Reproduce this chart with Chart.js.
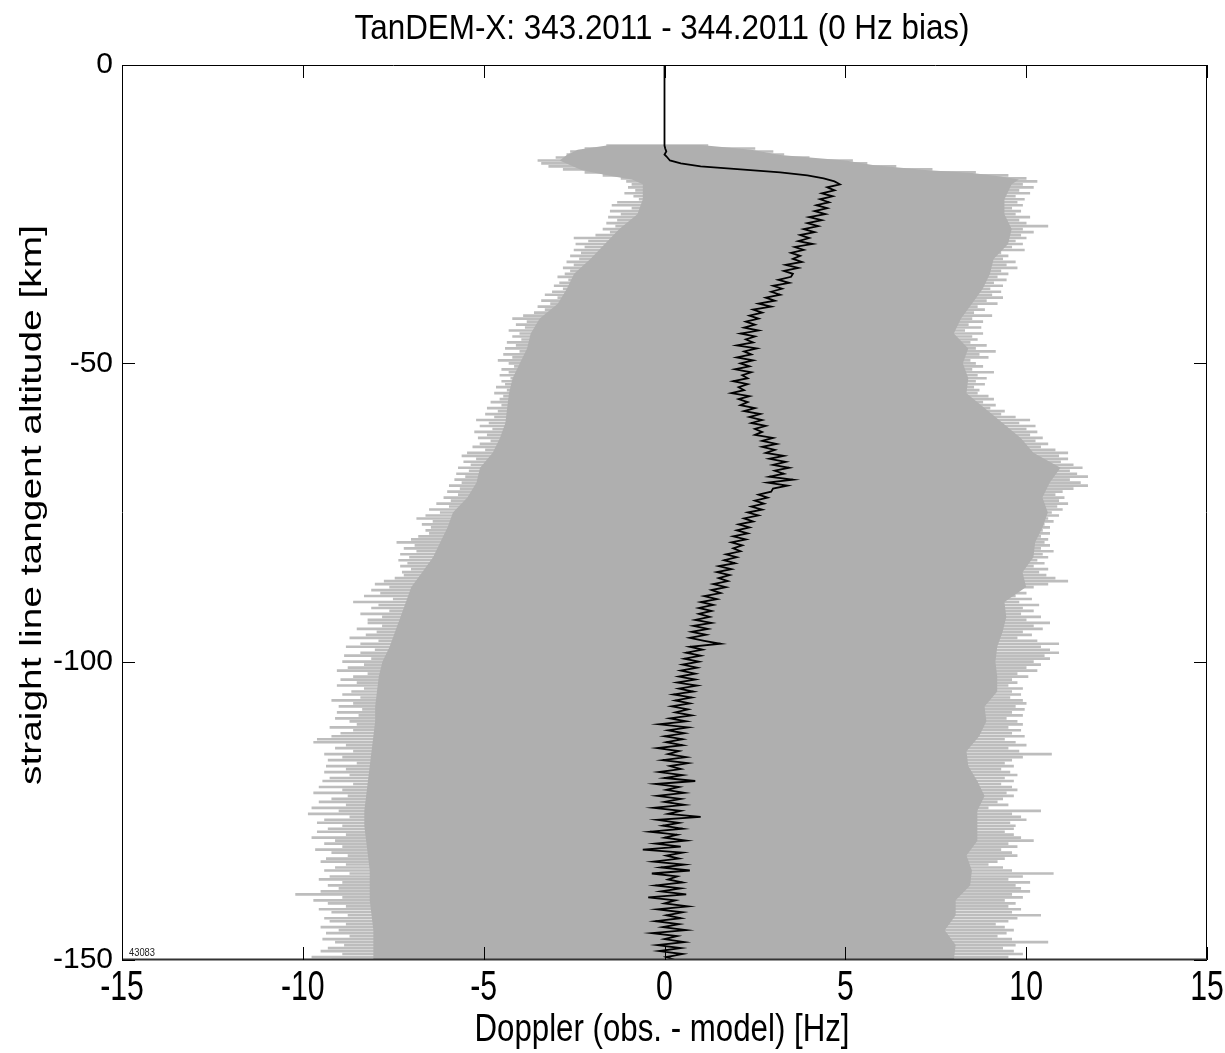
<!DOCTYPE html>
<html>
<head>
<meta charset="utf-8">
<title>TanDEM-X Doppler residuals</title>
<script src="https://cdn.jsdelivr.net/npm/chart.js@4.4.1/dist/chart.umd.min.js"></script>
<style>
  html, body { margin: 0; padding: 0; background: #fff; }
  #wrap { width: 1225px; height: 1053px; }
</style>
</head>
<body>
<div id="wrap"><canvas id="dopplerChart" width="1225" height="1053"></canvas></div>
<script>
// Profiles are sampled every 0.5 km starting at -13.5 km
const ALT_TOP = -13.5;
const ALT_STEP = 0.5;

const xTicks = [-15, -10, -5, 0, 5, 10, 15];
const yTicks = [0, -50, -100, -150];

// mean residual above the first sample (straight drop at 0 Hz)
const leadAlt = [0, -13];
const leadDoppler = [0, 0];

// mean Doppler residual per sample [Hz]
const meanDoppler = [
  0.0, 0.02, 0.05, 0.0, 0.08, 0.15, 0.45, 1.0, 2.1, 3.2,
  3.95, 4.4, 4.7, 4.85, 4.5, 4.7, 4.35, 4.65, 4.3, 4.55,
  4.2, 4.5, 4.15, 4.45, 4.0, 4.35, 3.95, 4.25, 3.85, 4.15,
  3.75, 4.0, 3.7, 4.1, 3.6, 3.85, 3.5, 3.75, 3.55, 3.8,
  3.35, 3.7, 3.3, 3.55, 3.5, 3.15, 3.45, 3.0, 3.25, 2.95,
  3.2, 2.8, 3.05, 2.6, 2.95, 2.45, 2.7, 2.35, 2.6, 2.25,
  2.5, 2.2, 2.6, 2.1, 2.5, 2.25, 2.45, 2.0, 2.55, 2.2,
  2.4, 2.0, 2.45, 2.1, 2.35, 1.95, 2.4, 2.15, 2.3, 1.9,
  2.3, 2.05, 2.2, 1.85, 2.35, 2.05, 2.3, 2.1, 2.5, 2.2,
  2.65, 2.35, 2.7, 2.4, 2.8, 2.5, 2.7, 2.5, 3.0, 2.7,
  3.1, 2.7, 3.05, 2.8, 3.3, 2.9, 3.35, 3.0, 3.45, 3.05,
  3.3, 2.9, 3.55, 2.85, 3.4, 3.0, 2.95, 2.6, 2.85, 2.5,
  2.75, 2.4, 2.7, 2.3, 2.6, 2.2, 2.45, 2.05, 2.35, 2.0,
  2.3, 1.9, 2.25, 1.85, 2.15, 1.9, 2.1, 1.7, 2.0, 1.65,
  1.95, 1.5, 1.85, 1.45, 1.8, 1.5, 1.75, 1.35, 1.7, 1.3,
  1.55, 1.1, 1.45, 1.0, 1.35, 0.95, 1.3, 0.95, 1.25, 0.85,
  1.3, 0.8, 1.2, 0.75, 1.15, 0.7, 1.1, 1.55, 0.7, 1.05,
  0.6, 1.0, 0.55, 0.95, 0.5, 0.9, 0.45, 0.85, 0.4, 0.85,
  0.35, 0.9, 0.4, 0.8, 0.25, 0.75, 0.3, 0.7, 0.2, 0.65,
  0.3, 0.75, 0.15, 0.6, -0.15, 0.65, 0.1, 0.55, 0.0, 0.5,
  0.05, 0.5, -0.2, 0.4, 0.1, 0.6, -0.05, 0.65, 0.15, 0.45,
  -0.15, 0.5, 0.0, 0.85, -0.25, 0.4, 0.05, 0.55, -0.2, 0.45,
  0.0, 0.55, -0.3, 0.45, 0.1, 1.0, -0.2, 0.4, -0.05, 0.5,
  -0.4, 0.35, 0.0, 0.6, -0.25, 0.45, -0.6, 0.5, 0.05, 0.4,
  -0.3, 0.55, -0.1, 0.7, -0.35, 0.35, 0.1, 0.5, -0.25, 0.45,
  -0.1, 0.6, -0.45, 0.3, 0.0, 0.65, -0.2, 0.5, 0.05, 0.45,
  -0.25, 0.4, -0.05, 0.6, -0.35, 0.35, 0.0, 0.55, -0.2, 0.45,
  -0.15, 0.5, 0.05, 0.3
];

// outermost single-sample excursions per sample [Hz]
const spikeLeft = [
  -1.6, -2.2, -2.6, -2.7, -3.0, -3.5, -3.4, -3.2, -2.8, -2.2,
  -1.7, -1.2, -1.05, -0.9, -1.0, -0.8, -1.1, -0.85, -0.7, -1.3,
  -1.45, -0.9, -1.5, -1.2, -1.55, -1.3, -1.6, -1.35, -1.7, -1.5,
  -1.9, -2.5, -2.1, -2.45, -2.2, -2.5, -2.3, -2.6, -2.35, -2.7,
  -2.5, -2.8, -2.6, -2.75, -2.95, -2.65, -2.9, -3.05, -2.8, -3.1,
  -3.3, -2.95, -3.4, -3.15, -3.5, -3.3, -3.6, -3.9, -4.2, -3.8,
  -4.1, -3.85, -4.3, -4.0, -4.2, -3.95, -4.35, -4.1, -4.4, -4.0,
  -4.45, -4.2, -4.6, -4.3, -4.15, -4.5, -4.3, -4.55, -4.25, -4.5,
  -4.4, -4.65, -4.35, -4.7, -4.45, -4.55, -4.8, -4.5, -4.9, -4.6,
  -4.95, -4.7, -5.2, -4.85, -5.1, -4.75, -5.25, -4.9, -5.15, -4.8,
  -5.1, -5.3, -4.95, -5.45, -5.6, -5.2, -5.55, -5.35, -5.7, -5.4,
  -5.75, -5.5, -5.8, -5.6, -5.95, -5.65, -6.0, -5.7, -6.1, -5.9,
  -6.3, -5.95, -6.5, -6.2, -6.6, -6.85, -6.4, -6.7, -6.45, -6.6,
  -6.5, -6.8, -7.0, -7.4, -6.9, -7.2, -6.85, -7.3, -7.05, -7.35,
  -7.1, -7.3, -7.0, -7.25, -7.2, -7.45, -7.75, -8.0, -7.6, -8.1,
  -7.85, -8.3, -7.5, -8.6, -7.9, -8.1, -7.6, -8.4, -7.8, -8.2,
  -8.2, -7.8, -8.5, -7.95, -8.25, -8.7, -7.9, -8.4, -8.8, -8.0,
  -8.4, -8.85, -8.1, -8.9, -8.3, -8.75, -9.05, -8.2, -8.6, -8.95,
  -8.5, -9.05, -8.3, -8.65, -8.9, -8.4, -9.2, -8.6, -9.0, -8.35,
  -9.05, -8.45, -9.1, -8.7, -8.5, -9.25, -8.6, -8.95, -9.2, -9.6,
  -9.7, -8.8, -9.1, -8.6, -9.4, -8.9, -9.3, -8.5, -9.35, -8.8,
  -9.4, -8.7, -9.25, -9.45, -8.6, -9.55, -8.9, -9.7, -8.75, -9.2,
  -9.55, -8.8, -9.75, -9.0, -9.85, -8.7, -9.4, -9.6, -8.9, -9.3,
  -9.6, -8.8, -9.75, -9.1, -9.4, -8.9, -9.65, -9.2, -8.75, -9.35,
  -9.5, -8.8, -9.1, -9.4, -8.7, -9.25, -9.55, -8.9, -9.3, -9.0,
  -9.5, -10.2, -8.9, -9.7, -9.3, -8.8, -9.55, -9.2, -8.75, -9.4,
  -9.25, -8.8, -9.5, -9.0, -9.35, -8.7, -9.45, -9.1, -8.85, -9.3,
  -9.5, -8.9, -9.75, -9.2
];

const spikeRight = [
  1.2, 2.5, 3.0, 3.3, 4.0, 5.2, 5.6, 6.4, 7.4, 8.6,
  9.5, 10.0, 10.3, 9.9, 10.2, 9.8, 10.1, 9.7, 9.95, 9.75,
  9.9, 9.6, 9.85, 9.7, 10.1, 9.8, 10.0, 10.6, 9.9, 10.2,
  9.85, 10.0, 9.7, 9.9, 9.6, 9.95, 9.3, 9.5, 9.35, 9.7,
  9.45, 9.75, 9.3, 9.5, 9.2, 9.45, 9.1, 9.35, 9.0, 9.3,
  9.05, 9.35, 8.9, 9.2, 8.65, 8.85, 8.55, 9.05, 8.5, 8.8,
  8.4, 8.75, 8.3, 8.8, 8.5, 8.65, 8.45, 8.9, 8.6, 9.15,
  8.7, 8.95, 8.45, 8.6, 8.8, 8.5, 9.1, 8.65, 8.9, 8.6,
  8.85, 8.55, 8.7, 8.65, 8.95, 9.1, 8.8, 9.15, 9.0, 9.4,
  9.3, 9.7, 10.1, 9.8, 10.25, 10.0, 10.3, 10.1, 10.45, 10.25,
  10.6, 10.4, 10.8, 11.15, 10.9, 11.15, 10.95, 11.3, 11.55, 11.2,
  11.4, 11.7, 11.2, 11.5, 11.7, 11.3, 11.0, 10.8, 11.05, 10.9,
  11.15, 10.85, 11.0, 10.7, 10.9, 10.6, 10.75, 10.5, 10.65, 10.45,
  10.65, 10.4, 10.6, 10.5, 10.65, 10.4, 10.75, 10.45, 10.6, 10.3,
  10.5, 10.2, 10.6, 10.35, 10.55, 10.8, 11.15, 10.6, 10.2, 9.8,
  10.0, 9.7, 10.15, 9.8, 10.35, 9.9, 10.2, 9.85, 10.4, 10.0,
  10.65, 10.2, 10.45, 9.9, 10.15, 9.75, 10.3, 10.9, 10.4, 10.65,
  10.9, 10.5, 10.65, 10.2, 10.4, 10.0, 10.3, 9.75, 10.05, 9.6,
  9.75, 9.5, 9.9, 9.6, 9.85, 9.55, 9.9, 10.0, 9.7, 9.95,
  9.6, 9.9, 9.45, 9.75, 9.9, 9.5, 9.85, 9.6, 9.95, 9.4,
  9.7, 10.0, 9.5, 9.8, 10.7, 9.9, 9.6, 9.4, 9.65, 9.3,
  9.55, 9.75, 9.4, 9.65, 9.3, 9.6, 9.75, 9.45, 9.65, 9.35,
  9.2, 9.5, 8.95, 10.4, 9.6, 9.85, 10.0, 9.55, 9.7, 9.65,
  9.4, 9.65, 9.85, 10.2, 9.5, 9.75, 9.3, 9.6, 9.75, 9.4,
  9.2, 8.95, 9.35, 9.6, 10.75, 9.9, 9.5, 10.1, 9.7, 9.85,
  10.1, 9.6, 9.9, 9.4, 9.7, 9.5, 9.85, 9.6, 10.4, 9.75,
  9.5, 9.15, 9.4, 9.65, 9.45, 9.2, 9.6, 10.6, 9.7, 9.35,
  9.65, 9.9, 9.5, 9.7
];

// dense part of the scatter: boundary altitudes [km] and edges [Hz]
const coreAlt = [
  -13.4, -14.2, -15.1, -16.0, -16.8, -17.6, -18.1, -18.7, -19.2,
  -20, -22.5, -25, -27.5, -30, -32.5, -35, -37.5, -40, -42.5,
  -45, -47.5, -50, -52.5, -55, -57.5, -60, -62.5, -65, -67.5,
  -70, -72.5, -75, -77.5, -80, -82.5, -85, -87.5, -90, -92.5,
  -95, -97.5, -100, -102.5, -105, -107.5, -110, -112.5, -115, -117.5,
  -120, -122.5, -125, -127.5, -130, -132.5, -135, -137.5, -140, -142.5,
  -145, -147.5, -150
];
const coreLeft = [
  -1.5, -2.4, -2.7, -2.9, -2.6, -2.3, -1.9, -1.4, -0.9,
  -0.6, -0.6, -0.75, -1.25, -1.65, -2.05, -2.5, -2.7, -2.95, -3.45,
  -3.7, -3.8, -4.0, -4.2, -4.3, -4.35, -4.4, -4.55, -4.75, -5.1,
  -5.2, -5.45, -5.85, -6.0, -6.2, -6.4, -6.7, -7.0, -7.15, -7.3,
  -7.45, -7.6, -7.8, -7.9, -7.95, -8.0, -8.0, -8.05, -8.1, -8.15,
  -8.2, -8.25, -8.3, -8.3, -8.25, -8.2, -8.15, -8.15, -8.15, -8.1,
  -8.05, -8.05, -8.05
];
const coreRight = [
  1.0, 2.4, 3.2, 5.0, 5.8, 7.2, 8.5, 9.3, 9.8,
  9.6, 9.4, 9.4, 9.6, 9.5, 9.1, 9.0, 8.8, 8.5, 8.2,
  8.0, 8.4, 8.25, 8.4, 8.35, 8.85, 9.35, 9.85, 10.2, 10.95,
  10.65, 10.45, 10.6, 10.45, 10.25, 10.2, 9.9, 10.0, 9.4, 9.45,
  9.35, 9.2, 9.15, 9.2, 9.2, 8.85, 8.9, 8.7, 8.35, 8.4,
  8.65, 8.85, 8.65, 8.65, 8.65, 8.35, 8.5, 8.45, 8.05, 8.05,
  7.75, 8.05, 8.0
];

const sampleAlt = meanDoppler.map((_, i) => ALT_TOP - ALT_STEP * i);

const spikeBars = sampleAlt.map((a, i) => ({ y: a, x: [spikeLeft[i], spikeRight[i]] }));
const coreShape = coreAlt.map((a, i) => ({ x: coreLeft[i], y: a }))
  .concat(coreAlt.map((a, i) => ({ x: coreRight[i], y: a })).reverse());
const meanLine = leadAlt.map((a, i) => ({ x: leadDoppler[i], y: a }))
  .concat(sampleAlt.map((a, i) => ({ x: meanDoppler[i], y: a })));

const FONT = '"Liberation Sans", Arial, sans-serif';

// text squeezed horizontally, like the narrow figure lettering
function narrowText(ctx, text, x, y, size, sx) {
  ctx.save();
  ctx.font = size + 'px ' + FONT;
  ctx.translate(x, y);
  ctx.scale(sx, 1);
  ctx.textAlign = 'center';
  ctx.textBaseline = 'alphabetic';
  ctx.fillText(text, 0, 0);
  ctx.restore();
}

function fitText(ctx, text, x, y, size, width) {
  ctx.save();
  ctx.font = size + 'px ' + FONT;
  const w = ctx.measureText(text).width;
  ctx.restore();
  narrowText(ctx, text, x, y, size, width / w);
}

const frame = {
  id: 'frame',
  afterDraw(chart) {
    const ctx = chart.ctx;
    const { left, right, top, bottom } = chart.chartArea;
    const xs = chart.scales.x, ys = chart.scales.y;
    ctx.save();
    ctx.strokeStyle = '#000';
    ctx.lineWidth = 1;
    ctx.beginPath();
    ctx.rect(left + 0.5, top + 0.5, right - left - 1, bottom - top - 1);
    ctx.stroke();
    ctx.lineWidth = 2;
    ctx.strokeStyle = '#333';
    ctx.beginPath();
    ctx.moveTo(left, bottom - 0.5);
    ctx.lineTo(right, bottom - 0.5);
    ctx.stroke();

    // inward tick marks on all four sides
    ctx.lineWidth = 1;
    ctx.strokeStyle = '#000';
    ctx.beginPath();
    xs.ticks.forEach(t => {
      const px = Math.round(xs.getPixelForValue(t.value)) + 0.5;
      ctx.moveTo(px, bottom); ctx.lineTo(px, bottom - 13);
      ctx.moveTo(px, top); ctx.lineTo(px, top + 13);
    });
    ys.ticks.forEach(t => {
      const py = Math.round(ys.getPixelForValue(t.value)) + 0.5;
      ctx.moveTo(left, py); ctx.lineTo(left + 13, py);
      ctx.moveTo(right, py); ctx.lineTo(right - 13, py);
    });
    ctx.stroke();

    ctx.fillStyle = '#000';
    xs.ticks.forEach(t => {
      narrowText(ctx, String(t.value), xs.getPixelForValue(t.value), 1000, 42, 0.72);
    });

    fitText(ctx, 'TanDEM-X: 343.2011 - 344.2011 (0 Hz bias)', 662, 39, 35, 615);
    fitText(ctx, 'Doppler (obs. - model) [Hz]', 662, 1041, 38, 375);

    ctx.save();
    ctx.translate(41, 505);
    ctx.rotate(-Math.PI / 2);
    fitText(ctx, 'straight line tangent altitude [km]', 0, 0, 29, 560);
    ctx.restore();

    ctx.fillStyle = '#222';
    narrowText(ctx, '43083', left + 20, bottom - 4, 11, 0.85);
    ctx.restore();
  }
};

new Chart(document.getElementById('dopplerChart'), {
  type: 'line',
  data: {
    datasets: [
      {
        type: 'bar',
        indexAxis: 'y',
        data: spikeBars,
        backgroundColor: '#bdbdbd',
        borderWidth: 0,
        barThickness: 2,
        order: 3
      },
      {
        type: 'line',
        data: coreShape,
        borderWidth: 0,
        borderColor: 'rgba(0,0,0,0)',
        backgroundColor: '#afafaf',
        fill: 'shape',
        pointRadius: 0,
        tension: 0,
        order: 2
      },
      {
        type: 'line',
        data: meanLine,
        borderColor: '#000',
        borderWidth: 1.8,
        fill: false,
        pointRadius: 0,
        tension: 0,
        order: 1
      }
    ]
  },
  options: {
    responsive: false,
    animation: false,
    devicePixelRatio: 1,
    layout: { padding: { top: 65, right: 18, left: 0, bottom: 0 } },
    plugins: {
      legend: { display: false },
      tooltip: { enabled: false },
      title: { display: false }
    },
    scales: {
      x: {
        type: 'linear',
        min: -15,
        max: 15,
        offset: false,
        afterBuildTicks: s => { s.ticks = xTicks.map(v => ({ value: v })); },
        afterFit: s => { s.height = 93; },
        ticks: { display: false },
        grid: { display: false, offset: false },
        border: { display: false }
      },
      y: {
        type: 'linear',
        min: -150,
        max: 0,
        offset: false,
        afterBuildTicks: s => { s.ticks = yTicks.map(v => ({ value: v })); },
        afterFit: s => { s.width = 122; },
        ticks: {
          color: '#000',
          padding: 9,
          font: { family: FONT, size: 30 }
        },
        grid: { display: false, drawTicks: false, offset: false },
        border: { display: false }
      }
    }
  },
  plugins: [frame]
});
</script>
</body>
</html>
